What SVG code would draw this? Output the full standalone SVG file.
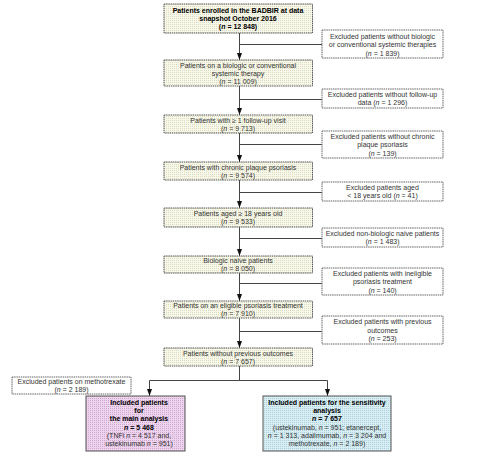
<svg xmlns="http://www.w3.org/2000/svg" width="477" height="461" viewBox="0 0 477 461">
<defs>
<pattern id="pY" width="2" height="2" patternUnits="userSpaceOnUse"><rect width="2" height="2" fill="#f8f8ea"/><rect width="1" height="1" fill="#dcdcc2"/></pattern>
<pattern id="pP" width="2" height="2" patternUnits="userSpaceOnUse"><rect width="2" height="2" fill="#eed4ee"/><rect width="1" height="1" fill="#cca8cc"/></pattern>
<pattern id="pB" width="2" height="2" patternUnits="userSpaceOnUse"><rect width="2" height="2" fill="#d8eef4"/><rect width="1" height="1" fill="#acd0da"/></pattern>
<marker id="ah" viewBox="0 0 7 5" refX="7" refY="2.5" markerWidth="7" markerHeight="5" markerUnits="userSpaceOnUse" orient="auto"><path d="M0,0 L7,2.5 L0,5 z" fill="#111"/></marker>
</defs>
<style>
text{font-family:"Liberation Sans",Arial,sans-serif;font-size:7px;fill:#333;text-anchor:middle}
.b{font-weight:bold;fill:#000}
.main{fill:url(#pY);stroke:#555;stroke-width:1;stroke-dasharray:1.5 0.7}
.exc{fill:#fff;stroke:#666;stroke-width:1;stroke-dasharray:1.5 0.7}
.pink{fill:url(#pP);stroke:#555;stroke-width:1}
.blue{fill:url(#pB);stroke:#555;stroke-width:1}
.c{fill:none;stroke:#444;stroke-width:1}
.a{marker-end:url(#ah)}
</style>
<rect width="477" height="461" fill="#fff"/>
<g id="connectors">
<path class="c a" d="M239.5,33 V60"/>
<path class="c a" d="M239.5,86 V115"/>
<path class="c a" d="M239.5,133 V162"/>
<path class="c a" d="M239.5,180 V208"/>
<path class="c a" d="M239.5,227 V256"/>
<path class="c a" d="M239.5,273 V301"/>
<path class="c a" d="M239.5,318 V348"/>
<path class="c" d="M239.5,44.5 H322 M239.5,99.5 H322 M239.5,144.5 H322 M239.5,192.5 H322 M239.5,238.5 H322 M239.5,283.5 H322 M239.5,331.5 H322"/>
<path class="c" d="M239.5,366 V380.5 M149.5,380.5 H327.5"/>
<path class="c a" d="M149.5,380.5 V396"/>
<path class="c a" d="M327.5,380.5 V396"/>
</g>
<g id="n1"><rect class="main" x="164" y="4" width="148.5" height="29"/>
<text class="b" x="238" y="13">Patients enrolled in the BADBIR at data</text>
<text class="b" x="238" y="21">snapshot October 2016</text>
<text class="b" x="238" y="29">(<tspan font-style="italic">n</tspan> = 12 848)</text></g>
<g id="n2"><rect class="main" x="164" y="60" width="148.5" height="26"/>
<text x="238" y="67.5">Patients on a biologic or conventional</text>
<text x="238" y="75.5">systemic therapy</text>
<text x="238" y="83.5">(<tspan font-style="italic">n</tspan> = 11 009)</text></g>
<g id="n3"><rect class="main" x="164" y="115" width="148.5" height="18"/>
<text x="238" y="122.5">Patients with ≥ 1 follow-up visit</text>
<text x="238" y="130.5">(<tspan font-style="italic">n</tspan> = 9 713)</text></g>
<g id="n4"><rect class="main" x="164" y="162" width="148.5" height="18"/>
<text x="238" y="169.5">Patients with chronic plaque psoriasis</text>
<text x="238" y="177.5">(<tspan font-style="italic">n</tspan> = 9 574)</text></g>
<g id="n5"><rect class="main" x="164" y="208" width="148.5" height="19"/>
<text x="238" y="216">Patients aged ≥ 18 years old</text>
<text x="238" y="224">(<tspan font-style="italic">n</tspan> = 9 533)</text></g>
<g id="n6"><rect class="main" x="164" y="256" width="148.5" height="17"/>
<text x="238" y="263">Biologic naive patients</text>
<text x="238" y="271">(<tspan font-style="italic">n</tspan> = 8 050)</text></g>
<g id="n7"><rect class="main" x="164" y="301" width="148.5" height="17"/>
<text x="238" y="308">Patients on an eligible psoriasis treatment</text>
<text x="238" y="316">(<tspan font-style="italic">n</tspan> = 7 910)</text></g>
<g id="n8"><rect class="main" x="164" y="348" width="148.5" height="18"/>
<text x="238" y="355.5">Patients without previous outcomes</text>
<text x="238" y="363.5">(<tspan font-style="italic">n</tspan> = 7 657)</text></g>
<g id="e1"><rect class="exc" x="322" y="30" width="121" height="28"/>
<text x="382.5" y="38.5">Excluded patients without biologic</text>
<text x="382.5" y="47">or conventional systemic therapies</text>
<text x="382.5" y="55.5">(<tspan font-style="italic">n</tspan> = 1 839)</text></g>
<g id="e2"><rect class="exc" x="322" y="89" width="121" height="19"/>
<text x="382.5" y="97">Excluded patients without follow-up</text>
<text x="382.5" y="105">data (<tspan font-style="italic">n</tspan> = 1 296)</text></g>
<g id="e3"><rect class="exc" x="322" y="131" width="121" height="27"/>
<text x="382.5" y="138.5">Excluded patients without chronic</text>
<text x="382.5" y="147">plaque psoriasis</text>
<text x="382.5" y="155.5">(<tspan font-style="italic">n</tspan> = 139)</text></g>
<g id="e4"><rect class="exc" x="322" y="182" width="121" height="19"/>
<text x="382.5" y="190">Excluded patients aged</text>
<text x="382.5" y="198">&lt; 18 years old (<tspan font-style="italic">n</tspan> = 41)</text></g>
<g id="e5"><rect class="exc" x="322" y="228" width="121" height="19"/>
<text x="382.5" y="236">Excluded non-biologic naive patients</text>
<text x="382.5" y="244">(<tspan font-style="italic">n</tspan> = 1 483)</text></g>
<g id="e6"><rect class="exc" x="322" y="268" width="121" height="27"/>
<text x="382.5" y="275.5">Excluded patients with ineligible</text>
<text x="382.5" y="284">psoriasis treatment</text>
<text x="382.5" y="292.5">(<tspan font-style="italic">n</tspan> = 140)</text></g>
<g id="e7"><rect class="exc" x="322" y="316" width="121" height="28"/>
<text x="382.5" y="324">Excluded patients with previous</text>
<text x="382.5" y="332.5">outcomes</text>
<text x="382.5" y="341">(<tspan font-style="italic">n</tspan> = 253)</text></g>
<g id="e8"><rect class="exc" x="12" y="377" width="119" height="17"/>
<text x="71.5" y="384">Excluded patients on methotrexate</text>
<text x="71.5" y="391.5">(<tspan font-style="italic">n</tspan> = 2 189)</text></g>
<g id="main"><rect class="pink" x="86" y="396" width="99" height="55"/>
<text class="b" x="139" y="405">Included patients</text>
<text class="b" x="139" y="413.2">for</text>
<text class="b" x="139" y="421.4">the main analysis</text>
<text class="b" x="139" y="429.6"><tspan font-style="italic">n</tspan> = 5 468</text>
<text x="139" y="437.8">(TNFi <tspan font-style="italic">n</tspan> = 4 517 and,</text>
<text x="139" y="446">ustekinumab <tspan font-style="italic">n</tspan> = 951)</text></g>
<g id="sens"><rect class="blue" x="263" y="396" width="128" height="55"/>
<text class="b" x="327" y="405">Included patients for the sensitivity</text>
<text class="b" x="327" y="413.2">analysis</text>
<text class="b" x="327" y="421.4"><tspan font-style="italic">n</tspan> = 7 657</text>
<text x="327" y="429.6">(ustekinumab, <tspan font-style="italic">n</tspan> = 951; etanercept,</text>
<text x="327" y="437.8"><tspan font-style="italic">n</tspan> = 1 313, adalimumab, <tspan font-style="italic">n</tspan> = 3 204 and</text>
<text x="327" y="446">methotrexate, <tspan font-style="italic">n</tspan> = 2 189)</text></g>
</svg>
